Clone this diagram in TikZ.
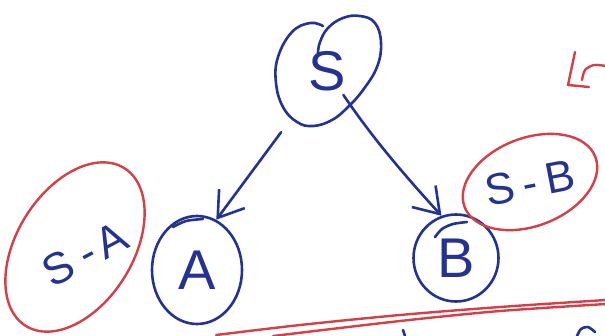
\documentclass[tikz,border=0pt]{standalone}
\usepackage{fontspec}
\setmainfont{Liberation Sans}
\usetikzlibrary{arrows.meta,shapes.geometric}
\definecolor{inkblue}{RGB}{36,50,148}
\definecolor{inkred}{RGB}{214,62,72}
\begin{document}
\begin{tikzpicture}[x=1pt,y=-1pt,
  bluepen/.style={draw=inkblue, line width=2.6pt, line cap=round, line join=round},
  redpen/.style={draw=inkred, line width=2.4pt, line cap=round, line join=round},
  vertex/.style={ellipse, inner sep=0pt, text=inkblue, font=\fontsize{56}{56}\selectfont},
  ring/.style={ellipse, inner sep=0pt, redpen},
  pairlabel/.style={text=inkblue, inner sep=0pt, font=\fontsize{44}{44}\selectfont},
  link/.style={bluepen, -{Straight Barb[length=24pt,width=32pt]}},
]
\useasboundingbox (0,0) rectangle (605,335);

% tree: root S with children A and B
\node[vertex, minimum width=106pt, minimum height=110pt] (S) at (327,71) {S};
\draw[bluepen] plot[smooth, tension=0.7] coordinates {
  (323,26) (310,23) (292,32) (278,57) (276,83) (283,107) (297,122)
  (313,126) (332,120) (348,107) (363,90) (377,67) (381,43) (375,23)
  (360,16) (343,18) (328,28) (320,42) (318,53)};

\node[vertex, bluepen, minimum width=90pt, minimum height=108pt] (A) at (197,270) {A};
\node[vertex, bluepen, minimum width=85pt, minimum height=87pt] (B) at (456,258) {B};

% pen overlaps at the top of the child circles
\draw[bluepen] plot[smooth] coordinates {(173,227) (186,221) (203,219)};
\draw[bluepen] plot[smooth] coordinates {(435,237) (442,229) (453,224) (467,222)};

% edges
\draw[link, shorten <=22pt] (S.233) -- (A.69);
\draw[link, shorten <=29pt] (S.center) to[bend right=4] (B.109);

% edge labels in red rings
\node[ring, minimum width=186pt, minimum height=116pt, rotate=58] (SAring) at (75,247) {};
\node[pairlabel, rotate=28] (SA) at (85,254) {S\hspace{10pt}-\hspace{6pt}A};
\node[ring, minimum width=140pt, minimum height=88pt, rotate=21] (SBring) at (530,182) {};
\node[pairlabel, rotate=11] (SB) at (530,183) {S\hspace{9pt}-\hspace{9pt}B};

% red underline, drawn twice
\draw[redpen] plot[smooth] coordinates {(216,335) (300,325) (400,315) (500,307) (606,300)};
\draw[redpen] plot[smooth] coordinates {(273,336) (400,321) (500,311) (606,304)};

% red stroke at the right margin
\draw[redpen] (575,52) -- (568,85) -- (589,87);
\draw[redpen] plot[smooth] coordinates {(582,80) (585,70) (594,65) (606,66)};

% ink marks at the bottom edge
\draw[bluepen] (403,330) -- (405,336);
\draw[bluepen] plot[smooth] coordinates {(577,336) (581,329) (588,327) (595,332)};
\end{tikzpicture}
\end{document}
